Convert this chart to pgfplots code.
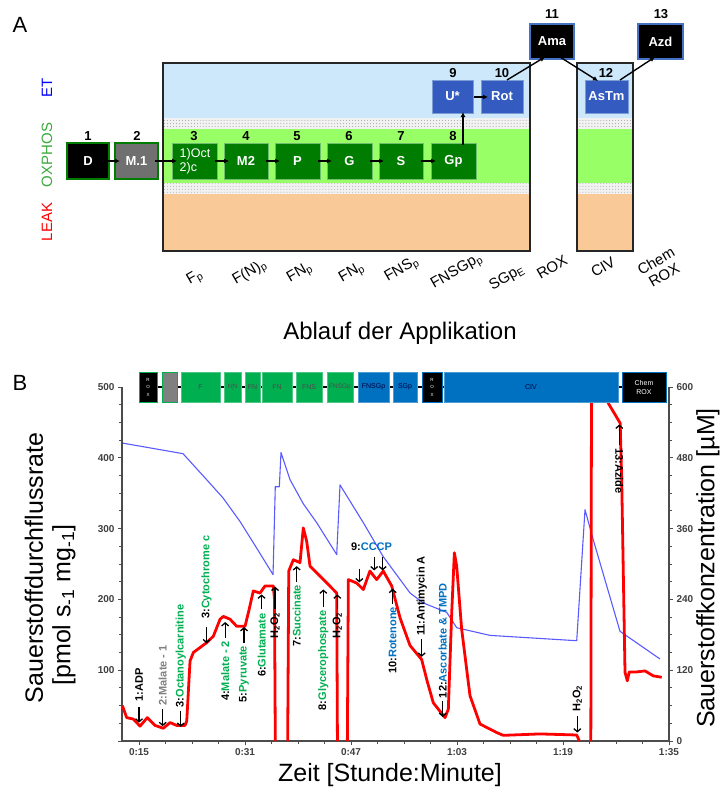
\documentclass[border=0pt]{standalone}
\usepackage{pgfplots}
\pgfplotsset{compat=1.18}
\usepackage{pgfplotstable}
\usepackage{fontspec}
\setmainfont{Liberation Sans}
\usetikzlibrary{arrows.meta,patterns}

\definecolor{etblue}{RGB}{204,232,250}
\definecolor{oxgreen}{RGB}{153,255,102}
\definecolor{leakpeach}{RGB}{250,201,152}
\definecolor{stepgreen}{RGB}{0,125,0}
\definecolor{stepedge}{RGB}{110,190,110}
\definecolor{stepblue}{RGB}{52,92,192}
\definecolor{edgeblue}{RGB}{68,114,196}
\definecolor{hdgreen}{RGB}{0,176,80}
\definecolor{hdblue}{RGB}{0,112,192}
\definecolor{txgreen}{RGB}{0,176,80}
\definecolor{txblue}{RGB}{0,112,192}
\definecolor{oxtext}{RGB}{60,170,60}
\definecolor{fluxred}{RGB}{255,0,0}
\definecolor{o2blue}{RGB}{90,90,255}

\newcommand\fs[2]{\fontsize{#1bp}{#2bp}\selectfont}

% oxygen flux, pmol s-1 mg-1 (left axis); nan = trace off scale
\pgfplotstableread{
t flux
12.48 50
13.14 33
14.14 31
15.15 21
16.25 33
17.42 22
18.67 18
19.68 26
20.69 22
21.94 22
22.2 28
22.7 113
23.2 125
25.22 139
26.22 148
27.23 172
27.73 176
28.74 172
29.75 162
31.0 162
31.6 185
32.25 212
33.26 209
34.02 219
35.27 219
35.45 200
35.57 0
36.5 nan
37.44 0
37.6 240
38.29 256
39.3 252
39.8 301
40.31 282
40.81 247
42.32 233
44.84 209
44.95 0
45.7 nan
46.45 0
46.6 228
47.87 223
48.86 214
49.85 240
50.87 228
51.87 240
53.14 219
54.4 174
55.9 135
57.67 115
58.42 87
59.42 54
61.19 33
61.69 45
62.2 181
62.6 266
62.95 247
63.7 158
64.96 64
66.47 24
68.98 12
69.98 8
75.5 10
81.07 8.5
81.47 0
82.3 nan
83.2 0
83.3 490
85.5 490
85.84 477
87.63 449
87.86 369
88.36 97
88.71 85
89.0 97.6
90.13 97.6
91.38 99
92.63 92
93.9 90
}\fluxdata

% oxygen concentration, microM (right axis)
\pgfplotstableread{
t o2
12.48 505
21.64 487
24.96 446
27.68 412
30.25 372
32.81 326
35.23 282
35.57 431
36.18 431
36.43 489
37.79 443
39.8 402
41.82 370
44.84 316
45.34 434
48.86 370
51.83 313
55.9 251
57.91 234
61.45 218
62.96 192
67.98 179
81.07 170
82.32 392
83.57 341
87.6 186
93.64 139
}\otwodata

\tikzset{
  ann/.style={-{Straight Barb[length=3bp,width=7bp]}, line width=1.3pt, black},
  lab/.style={font=\fs{11}{13}\bfseries, inner sep=1bp},
  flow/.style={-{Latex[length=5bp,width=5bp]}, line width=1.4pt, black},
  gstep/.style={fill=stepgreen, draw=stepedge, line width=1pt},
  bstep/.style={fill=stepblue, draw=edgeblue!70!white, line width=1pt},
  kstep/.style={fill=black, draw=edgeblue, line width=1.6pt},
}

\newcommand\stepbox[6]{%
  \draw[#5] (#1,#2) rectangle (#3,#4);
  \node[font=\fs{13}{15}\bfseries, text=white] at ({(#1+#3)/2},{(#2+#4)/2}) {#6};}

\begin{document}
\begin{tikzpicture}
\path[use as bounding box, fill=white] (0,0) rectangle (720bp,-793bp);

% ---------------- panel A ----------------
\begin{scope}[x=1bp, y=-1bp]
\node[font=\fs{22}{26}] at (20,25) {A};

\foreach \xa/\xb in {163/530, 577/633}{
  \fill[etblue] (\xa,63) rectangle (\xb,118);
  \fill[gray!10] (\xa,118) rectangle (\xb,129);
  \fill[pattern=dots, pattern color=gray!70] (\xa,118) rectangle (\xb,129);
  \fill[oxgreen] (\xa,129) rectangle (\xb,183);
  \fill[gray!10] (\xa,183) rectangle (\xb,194);
  \fill[pattern=dots, pattern color=gray!70] (\xa,183) rectangle (\xb,194);
  \fill[leakpeach] (\xa,194) rectangle (\xb,251);
  \draw[black!85, line width=1.5pt] (\xa,63) rectangle (\xb,251);
}

\node[rotate=90, font=\fs{15}{18}, text=blue] at (47,88) {ET};
\node[rotate=90, font=\fs{15}{18}, text=oxtext] at (47,155) {OXPHOS};
\node[rotate=90, font=\fs{15}{18}, text=red] at (47,222) {LEAK};

\stepbox{67}{143}{109}{179}{fill=black, draw=stepgreen, line width=1.6pt}{D}
\stepbox{115}{143}{158}{179}{fill=black!56, draw=stepgreen, line width=1.6pt}{M.1}
\draw[gstep] (172,143) rectangle (217,179);
\node[font=\fs{12.5}{14}, text=white, align=left] at (195,161) {1)Oct\\2)c};
\stepbox{224}{143}{268}{179}{gstep}{M2}
\stepbox{275}{143}{320}{179}{gstep}{P}
\stepbox{327}{143}{372}{179}{gstep}{G}
\stepbox{379}{143}{423}{179}{gstep}{S}
\stepbox{431}{143}{476}{179}{gstep}{Gp}
\stepbox{432}{80}{473}{113}{bstep}{U*}
\stepbox{481}{80}{523}{113}{bstep}{Rot}
\stepbox{585}{80}{628}{113}{bstep}{AsTm}
\stepbox{530}{24}{574}{59}{kstep}{Ama}
\stepbox{638}{24}{683}{59}{kstep}{Azd}

\foreach \n/\x/\y in {1/88/136, 2/137/136, 3/194/136, 4/246/136, 5/297/136,
  6/349/136, 7/401/136, 8/453/136, 9/453/73, 10/502/73, 11/552/14,
  12/606/73, 13/661/14}
  \node[font=\fs{13}{15}\bfseries] at (\x,\y) {\n};

\draw[flow] (106,161) -- (120,161);
\draw[flow] (155,161) -- (177,161);
\draw[flow] (215,161) -- (229,161);
\draw[flow] (266,161) -- (280,161);
\draw[flow] (318,161) -- (332,161);
\draw[flow] (370,161) -- (384,161);
\draw[flow] (421,161) -- (436,161);
\draw[flow] (463,145) -- (463,112);
\draw[flow] (474,97) -- (488,97);
\draw[flow] (507,80) -- (545,57);
\draw[flow] (560,57) -- (598,81);
\draw[flow] (620,80) -- (655,57);

\foreach \x/\y/\t in {195/278/F\textsubscript{p}, 250/273/F(N)\textsubscript{p},
  300/273/FN\textsubscript{p}, 352/273/FN\textsubscript{p},
  402/270/FNS\textsubscript{p}, 457/272/FNSGp\textsubscript{p},
  507/278/SGp\textsubscript{E}, 552/267/ROX, 603/267/CIV}
  \node[rotate=30, font=\fs{15}{17}, inner sep=0pt] at (\x,\y) {\t};
\node[rotate=30, font=\fs{15}{16}, align=center, inner sep=0pt] at (660,268) {Chem\\ROX};

\node[font=\fs{24}{28}] at (400,333) {Ablauf der Applikation};

% ---------------- panel B labels ----------------
\node[font=\fs{22}{26}] at (20,383) {B};
\node[rotate=90, font=\fs{25}{28}] at (34,568) {Sauerstoffdurchflussrate};
\node[rotate=90, font=\fs{25}{28}] at (64,605) {[pmol s\textsubscript{-1} mg\textsubscript{-1}]};
\node[rotate=90, font=\fs{25}{28}] at (708,568) {Sauerstoffkonzentration [µM]};
\node[font=\fs{25}{28}] at (390,775) {Zeit [Stunde:Minute]};
\end{scope}

% ---------------- panel B: concentration (right axis) ----------------
\begin{axis}[
  at={(122bp,-741bp)}, anchor=south west, scale only axis,
  width=547bp, height=354bp,
  xmin=12.43, xmax=95, ymin=0, ymax=600,
  axis x line=none, axis y line*=right,
  ytick={0,120,240,360,480,600}, yticklabels={0,120,240,360,480,600},
  minor y tick num=3, tick align=outside,
  major tick length=4bp, minor tick length=3bp,
  every tick/.style={black!70, line width=0.9pt},
  axis line style={black!70, line width=1.3pt, -},
  ticklabel style={font=\fs{10}{12}\bfseries, text=black!75},
  clip=false,
]
\addplot[o2blue, line width=1.1pt, line join=round] table[x=t, y=o2] {\otwodata};
\end{axis}

% ---------------- panel B: flux (left axis) ----------------
\begin{axis}[
  at={(122bp,-741bp)}, anchor=south west, scale only axis,
  width=547bp, height=354bp,
  xmin=12.43, xmax=95, ymin=0, ymax=500,
  axis x line*=bottom, axis y line*=left,
  xtick={15,31,47,63,79,95}, xticklabels={0:15,0:31,0:47,1:03,1:19,1:35},
  ytick={0,100,...,500}, yticklabels={,100,200,300,400,500},
  minor x tick num=3, minor y tick num=3, tick align=outside,
  major tick length=4bp, minor tick length=3bp,
  every tick/.style={black!70, line width=0.9pt},
  axis line style={black!70, line width=1.3pt, -},
  ticklabel style={font=\fs{10}{12}\bfseries, text=black!75},
  unbounded coords=jump,
  clip=false,
]
\addplot[fluxred, line width=2.8pt, line join=round] table[x=t, y=flux] {\fluxdata};

% injections
\draw[ann] (axis cs:15,48) -- (axis cs:15,26);
\node[lab, rotate=90, anchor=west] at (axis cs:15,54) {1:ADP};
\draw[ann] (axis cs:18.57,45) -- (axis cs:18.57,21);
\node[lab, rotate=90, anchor=west, text=gray] at (axis cs:18.57,49) {2:Malate - 1};
\draw[ann] (axis cs:21.3,43) -- (axis cs:21.3,20);
\node[lab, rotate=90, anchor=west] at (axis cs:21.3,46) {3:\textcolor{txgreen}{Octanoylcarnitine}};
\draw[ann] (axis cs:25.2,161) -- (axis cs:25.2,138);
\node[lab, rotate=90, anchor=west] at (axis cs:25.2,171) {3:\textcolor{txgreen}{Cytochrome c}};
\draw[ann] (axis cs:28.0,146) -- (axis cs:28.0,168);
\node[lab, rotate=90, anchor=east] at (axis cs:28.0,143) {4:\textcolor{txgreen}{Malate - 2}};
\draw[ann] (axis cs:30.85,139) -- (axis cs:30.85,161);
\node[lab, rotate=90, anchor=east] at (axis cs:30.85,136) {5:\textcolor{txgreen}{Pyruvate}};
\draw[ann] (axis cs:33.5,186) -- (axis cs:33.5,207);
\node[lab, rotate=90, anchor=east] at (axis cs:33.5,182) {6:\textcolor{txgreen}{Glutamate}};
\draw[ann] (axis cs:35.53,186) -- (axis cs:35.53,218);
\node[lab, rotate=90, anchor=east] at (axis cs:35.53,183) {H\textsubscript{2}O\textsubscript{2}};
\draw[ann] (axis cs:38.8,225) -- (axis cs:38.8,247);
\node[lab, rotate=90, anchor=east] at (axis cs:38.8,222) {7:\textcolor{txgreen}{Succinate}};
\draw[ann] (axis cs:42.82,189) -- (axis cs:42.82,214);
\node[lab, rotate=90, anchor=east] at (axis cs:42.82,186) {8:\textcolor{txgreen}{Glycerophospate}};
\draw[ann] (axis cs:44.93,186) -- (axis cs:44.93,207);
\node[lab, rotate=90, anchor=east] at (axis cs:44.93,183) {H\textsubscript{2}O\textsubscript{2}};
\draw[ann] (axis cs:48.26,243) -- (axis cs:48.26,224);
\draw[ann] (axis cs:50.5,260) -- (axis cs:50.5,241);
\draw[ann] (axis cs:51.78,260) -- (axis cs:51.78,241);
\node[lab] at (axis cs:50.1,275) {9:\textcolor{txblue}{CCCP}};
\draw[ann] (axis cs:53.29,194) -- (axis cs:53.29,215);
\node[lab, rotate=90, anchor=east] at (axis cs:53.29,191) {10:\textcolor{txblue}{Rotenone}};
\draw[ann] (axis cs:57.67,144) -- (axis cs:57.67,119);
\node[lab, rotate=90, anchor=west] at (axis cs:57.67,147) {11:Antimycin A};
\draw[ann] (axis cs:60.84,56) -- (axis cs:60.84,34);
\node[lab, rotate=90, anchor=west] at (axis cs:60.84,59) {12:\textcolor{txblue}{Ascorbate \& TMPD}};
\draw[ann] (axis cs:81.16,36) -- (axis cs:81.16,12);
\node[lab, rotate=90, anchor=west] at (axis cs:81.16,40) {H\textsubscript{2}O\textsubscript{2}};
\draw[ann] (axis cs:87.5,418) -- (axis cs:87.5,447);
\node[lab, rotate=-90, anchor=west] at (axis cs:87.5,415) {13:Azide};

% protocol bar
\draw[line width=1.6pt] (axis cs:15,500) -- (axis cs:94.5,500);
\draw[fill=black, draw=hdgreen, line width=0.8pt] (axis cs:15.0,478) rectangle (axis cs:17.72,521);
\node[font=\fs{4.5}{7.5}, text=white, align=center] at (axis cs:16.36,500) {R\\O\\X};
\draw[fill=gray, draw=hdgreen, line width=0.8pt] (axis cs:18.47,478) rectangle (axis cs:20.74,521);
\draw[fill=hdgreen, draw=hdgreen!70!white, line width=0.8pt] (axis cs:21.34,478) rectangle (axis cs:27.23,521);
\node[font=\fs{7}{8}, text=black!70] at (axis cs:24.29,500) {F};
\draw[fill=hdgreen, draw=hdgreen!70!white, line width=0.8pt] (axis cs:27.83,478) rectangle (axis cs:30.40,521);
\node[font=\fs{6}{8}, text=black!70, inner sep=0pt] at (axis cs:29.12,500) {F(N};
\draw[fill=hdgreen, draw=hdgreen!70!white, line width=0.8pt] (axis cs:31.0,478) rectangle (axis cs:33.26,521);
\node[font=\fs{7}{8}, text=black!70, inner sep=0pt] at (axis cs:32.13,500) {FN};
\draw[fill=hdgreen, draw=hdgreen!70!white, line width=0.8pt] (axis cs:33.57,478) rectangle (axis cs:38.09,521);
\node[font=\fs{7}{8}, text=black!70] at (axis cs:35.83,500) {FN};
\draw[fill=hdgreen, draw=hdgreen!70!white, line width=0.8pt] (axis cs:38.70,478) rectangle (axis cs:42.62,521);
\node[font=\fs{7}{8}, text=black!70] at (axis cs:40.66,500) {FNS};
\draw[fill=hdgreen, draw=hdgreen!70!white, line width=0.8pt] (axis cs:43.38,478) rectangle (axis cs:47.30,521);
\node[font=\fs{6.5}{8}, text=black!70, inner sep=0pt] at (axis cs:45.34,500) {FNSGp};
\draw[fill=hdblue, draw=hdblue!70!white, line width=0.8pt] (axis cs:48.06,478) rectangle (axis cs:52.74,521);
\node[font=\fs{7}{8}, text=black!75!blue, inner sep=0pt] at (axis cs:50.40,500) {FNSGp};
\draw[fill=hdblue, draw=hdblue!70!white, line width=0.8pt] (axis cs:53.34,478) rectangle (axis cs:56.96,521);
\node[font=\fs{7}{8}, text=black!75!blue] at (axis cs:55.15,500) {SGp};
\draw[fill=black, draw=hdblue, line width=0.8pt] (axis cs:57.72,478) rectangle (axis cs:60.74,521);
\node[font=\fs{4.5}{7.5}, text=white, align=center] at (axis cs:59.23,500) {R\\O\\X};
\draw[fill=hdblue, draw=hdblue!70!white, line width=0.8pt] (axis cs:61.04,478) rectangle (axis cs:87.30,521);
\node[font=\fs{7}{8}, text=black!75!blue] at (axis cs:74.17,500) {CIV};
\draw[fill=black, draw=hdblue, line width=0.8pt] (axis cs:87.91,478) rectangle (axis cs:94.55,521);
\node[font=\fs{7}{9}, text=white, align=center] at (axis cs:91.23,500) {Chem\\ROX};
\end{axis}
\end{tikzpicture}
\end{document}
